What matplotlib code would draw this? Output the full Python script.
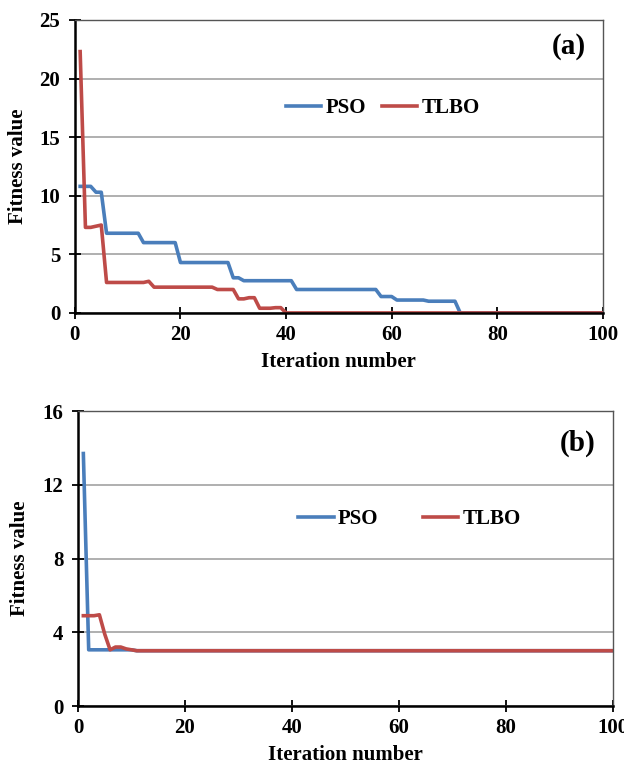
import matplotlib
matplotlib.use('Agg')
import matplotlib.pyplot as plt

plt.rcParams['font.family'] = 'Liberation Serif'
plt.rcParams['font.weight'] = 'bold'

iters = list(range(1, 101))

# (a) fitness per iteration
pso_a = ([10.8, 10.8, 10.8, 10.3, 10.3] + [6.8] * 7 + [6.0] * 7 + [4.3] * 10
         + [3.0, 3.0] + [2.75] * 10 + [2.0] * 16 + [1.4] * 3 + [1.1] * 6
         + [1.0] * 6 + [0.0] * 28)
tlbo_a = ([22.3, 7.3, 7.3, 7.4, 7.5] + [2.6] * 8 + [2.7] + [2.2] * 12
          + [2.0] * 4 + [1.2, 1.2, 1.3, 1.3] + [0.4, 0.4, 0.4, 0.45, 0.45]
          + [0.0] * 61)

# (b) fitness per iteration
pso_b = [13.7] + [3.05] * 9 + [3.0] * 90
tlbo_b = [4.9, 4.9, 4.9, 4.95, 3.9, 3.05, 3.2, 3.2, 3.1, 3.05] + [3.0] * 90

blue = '#4a7ebb'
red = '#be4b48'
fs = 15


def style(ax, ymax, ystep):
    ax.set_xlim(0, 100)
    ax.set_ylim(0, ymax)
    ax.set_xticks(range(0, 101, 20))
    ax.set_yticks(range(0, ymax + 1, ystep))
    ax.grid(axis='y', color='#9a9a9a', lw=1.1)
    ax.set_axisbelow(True)
    for s in ['top', 'right']:
        ax.spines[s].set_color('#555555')
        ax.spines[s].set_linewidth(1.0)
    for s in ['left', 'bottom']:
        ax.spines[s].set_linewidth(1.8)
    ax.tick_params(direction='inout', length=9, width=1.3, labelsize=fs)
    ax.tick_params(axis='y', pad=6)
    ax.tick_params(axis='x', pad=4)
    for lab in ax.get_xticklabels() + ax.get_yticklabels():
        lab.set_fontweight('bold')
    ax.set_xlabel('Iteration number', fontsize=fs, fontweight='bold', labelpad=5)
    ax.set_ylabel('Fitness value', fontsize=fs, fontweight='bold')
    ax.yaxis.set_label_coords(-0.088, 0.5)


fig = plt.figure(figsize=(6.24, 7.67), dpi=100)

ax1 = fig.add_axes([0.120, 0.592, 0.846, 0.382])
ax1.plot(iters, pso_a, color=blue, lw=2.6, label='PSO')
ax1.plot(iters, tlbo_a, color=red, lw=2.6, label='TLBO')
style(ax1, 25, 5)
ax1.legend(loc='center', bbox_to_anchor=(0.583, 0.70), ncol=2, frameon=False,
           prop={'weight': 'bold', 'size': fs}, handlelength=1.7,
           handletextpad=0.2, columnspacing=0.75)
ax1.text(0.968, 0.91, '(a)', transform=ax1.transAxes, ha='right', va='center',
         fontsize=21, fontweight='bold')

ax2 = fig.add_axes([0.125, 0.0795, 0.857, 0.3845])
ax2.plot(iters, pso_b, color=blue, lw=2.6, label='PSO')
ax2.plot(iters, tlbo_b, color=red, lw=2.6, label='TLBO')
style(ax2, 16, 4)
ax2.yaxis.set_label_coords(-0.09, 0.5)
ax2.legend(loc='center', bbox_to_anchor=(0.62, 0.633), ncol=2, frameon=False,
           prop={'weight': 'bold', 'size': fs}, handlelength=1.7,
           handletextpad=0.2, columnspacing=2.15)
ax2.text(0.968, 0.89, '(b)', transform=ax2.transAxes, ha='right', va='center',
         fontsize=21, fontweight='bold')

fig.savefig('out.png', dpi=100)
